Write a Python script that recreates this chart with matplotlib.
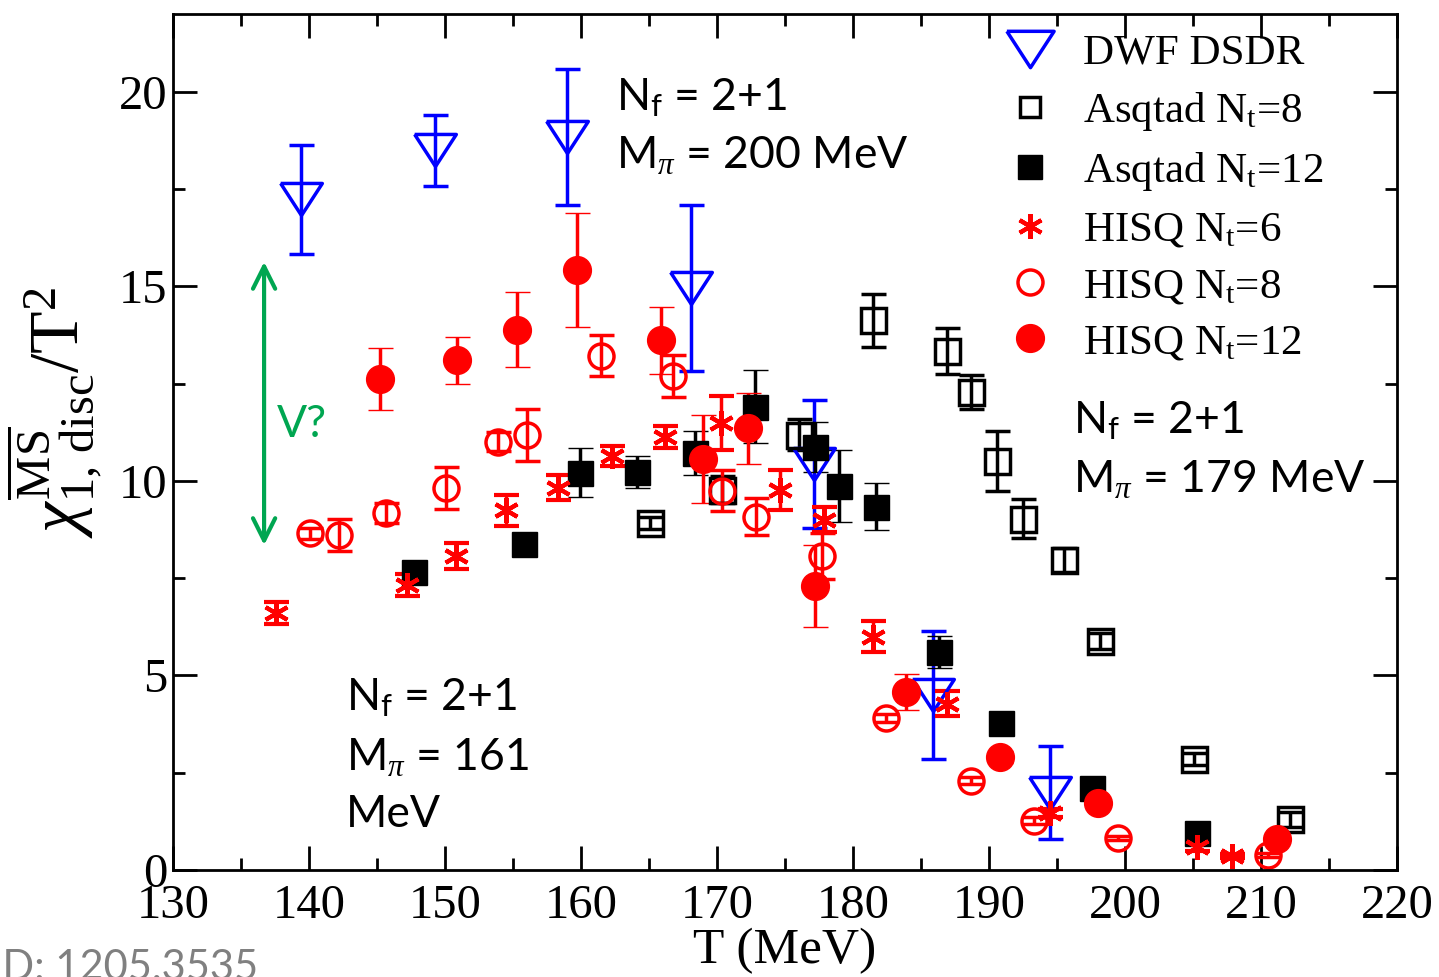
import matplotlib
matplotlib.use("Agg")
import matplotlib.pyplot as plt
from matplotlib.lines import Line2D

plt.rcParams['font.family'] = ['Liberation Serif', 'DejaVu Serif']
plt.rcParams['mathtext.fontset'] = 'custom'
plt.rcParams['mathtext.rm'] = 'Liberation Serif'
plt.rcParams['mathtext.it'] = 'Liberation Serif:italic'
plt.rcParams['mathtext.bf'] = 'Liberation Serif:bold'
plt.rcParams['mathtext.sf'] = 'Lato'

# DWF DSDR
dwf_T = [139.4, 149.3, 159.0, 168.1, 177.1, 185.9, 194.5]
dwf_y = [17.24, 18.50, 18.84, 14.96, 10.43, 4.49, 1.99]
dwf_e = [1.40, 0.91, 1.75, 2.13, 1.65, 1.64, 1.19]

# Asqtad Nt=8
asq8_T = [165.1, 170.4, 176.0, 181.45, 186.9, 188.7, 190.6, 192.5, 195.5, 198.2, 205.1, 212.1]
asq8_y = [8.92, 9.77, 11.19, 14.13, 13.34, 12.29, 10.51, 9.03, 7.97, 5.89, 2.85, 1.30]
asq8_e = [0.15, 0.35, 0.39, 0.68, 0.58, 0.44, 0.78, 0.50, 0.30, 0.20, 0.15, 0.20]

# Asqtad Nt=12
asq12_T = [147.7, 155.8, 159.9, 164.1, 168.4, 172.8, 177.2, 179.0, 181.7, 186.3, 190.9, 197.55, 205.3]
asq12_y = [7.67, 8.38, 10.21, 10.23, 10.71, 11.91, 10.88, 9.87, 9.34, 5.61, 3.77, 2.10, 0.96]
asq12_e = [0.10, 0.10, 0.63, 0.41, 0.56, 0.93, 0.64, 0.92, 0.60, 0.41, 0.10, 0.10, 0.10]

# HISQ Nt=6
h6_T = [137.6, 147.2, 150.8, 154.5, 158.3, 162.3, 166.2, 170.3, 174.6, 177.9, 181.5, 186.9, 194.5, 205.3, 207.9]
h6_y = [6.61, 7.33, 8.07, 9.25, 9.83, 10.64, 11.12, 11.49, 9.76, 9.00, 6.00, 4.27, 1.46, 0.60, 0.36]
h6_e = [0.28, 0.29, 0.34, 0.40, 0.31, 0.25, 0.28, 0.69, 0.52, 0.32, 0.39, 0.32, 0.10, 0.10, 0.05]

# HISQ Nt=8
h8_T = [140.1, 142.2, 145.7, 150.1, 153.9, 156.0, 161.5, 166.8, 170.4, 172.9, 177.7, 182.4, 188.65, 193.3, 199.5, 210.5]
h8_y = [8.65, 8.61, 9.18, 9.81, 11.01, 11.18, 13.22, 12.70, 9.75, 9.08, 8.07, 3.91, 2.30, 1.27, 0.83, 0.39]
h8_e = [0.15, 0.42, 0.25, 0.54, 0.25, 0.66, 0.53, 0.54, 0.53, 0.47, 0.60, 0.10, 0.10, 0.10, 0.05, 0.05]

# HISQ Nt=12
h12_T = [145.2, 150.9, 155.3, 159.7, 165.9, 169.0, 172.3, 177.2, 183.9, 190.8, 198.0, 211.15]
h12_y = [12.62, 13.10, 13.89, 15.42, 13.62, 10.57, 11.35, 7.30, 4.58, 2.91, 1.71, 0.79]
h12_e = [0.79, 0.61, 0.97, 1.47, 0.86, 1.13, 0.92, 1.05, 0.46, 0.15, 0.10, 0.10]

labels = ['DWF DSDR', r'Asqtad N$_{\rm t}$=8', r'Asqtad N$_{\rm t}$=12',
          r'HISQ N$_{\rm t}$=6', r'HISQ N$_{\rm t}$=8', r'HISQ N$_{\rm t}$=12']

BLUE = '#0000ff'
RED = '#ff0000'
GREEN = '#00a651'
tri = [(-1, 0.77), (1, 0.77), (0, -0.77), (-1, 0.77)]
ast = (6, 2, 0)

fig = plt.figure(figsize=(14.39, 9.77), dpi=100)
ax = fig.add_axes([0.1202, 0.1095, 0.8506, 0.8762])

eb = dict(capsize=9, elinewidth=2.5, capthick=2.5, ls='none')
ax.errorbar(dwf_T, dwf_y, yerr=dwf_e, color=BLUE, marker=tri, ms=30, mfc='none',
            mec=BLUE, mew=2.5, **eb)
ax.errorbar(asq8_T, asq8_y, yerr=asq8_e, color='k', marker='s', ms=18, mfc='none',
            mec='k', mew=2.5, **eb)
ax.errorbar(asq12_T, asq12_y, yerr=asq12_e, color='k', marker='s', ms=18, mfc='k',
            mec='k', mew=1, **eb)
ax.errorbar(h6_T, h6_y, yerr=h6_e, color=RED, marker=ast, ms=18, mec=RED, mew=3, **eb)
ax.errorbar(h8_T, h8_y, yerr=h8_e, color=RED, marker='o', ms=18, mfc='none',
            mec=RED, mew=2.5, **eb)
ax.errorbar(h12_T, h12_y, yerr=h12_e, color=RED, marker='o', ms=20, mfc=RED,
            mec=RED, mew=1, **eb)

ax.set_xlim(130, 220)
ax.set_ylim(0, 22)
ax.set_xticks(range(130, 221, 10))
ax.set_xticks(range(135, 220, 10), minor=True)
ax.set_yticks([0, 5, 10, 15, 20])
ax.set_yticks([2.5, 7.5, 12.5, 17.5], minor=True)
ax.tick_params(which='both', direction='in', top=True, right=True, width=2,
               labelsize=35)
ax.tick_params(axis='y', pad=4)
ax.tick_params(axis='x', pad=10)
ax.tick_params(which='major', length=17)
ax.tick_params(which='minor', length=8.5)
for s in ax.spines.values():
    s.set_linewidth(2)

ax.set_xlabel('T (MeV)', fontsize=37, labelpad=0)
ax.set_ylabel(r'$\chi^{\overline{\rm MS}}_{\rm 1,\,disc}/{\rm T}^{2}$', fontsize=50)
ax.yaxis.set_label_coords(-0.056, 0.535)

handles = [
    Line2D([], [], ls='none', marker=tri, ms=34, mfc='none', mec=BLUE, mew=2.5),
    Line2D([], [], ls='none', marker='s', ms=15, mfc='none', mec='k', mew=2.5),
    Line2D([], [], ls='none', marker='s', ms=17, mfc='k', mec='k'),
    Line2D([], [], ls='none', marker=ast, ms=18, mec=RED, mew=3),
    Line2D([], [], ls='none', marker='o', ms=18, mfc='none', mec=RED, mew=2.5),
    Line2D([], [], ls='none', marker='o', ms=20, mfc=RED, mec=RED),
]
ax.legend(handles, labels, loc='upper right', bbox_to_anchor=(0.964, 1.012),
          frameon=False, fontsize=31, handlelength=1.2, handletextpad=0.62,
          labelspacing=0.4, borderpad=0.2)

sans = dict(family='Lato', fontsize=32, va='baseline')
ax.text(162.6, 19.54, r'N$_{\mathsf{f}}$ = 2+1', **sans)
ax.text(162.6, 18.05, r'M$_{\pi}$ = 200 MeV', **sans)
ax.text(196.2, 11.23, r'N$_{\mathsf{f}}$ = 2+1', **sans)
ax.text(196.2, 9.72, r'M$_{\pi}$ = 179 MeV', **sans)
ax.text(142.7, 4.11, r'N$_{\mathsf{f}}$ = 2+1', **sans)
ax.text(142.7, 2.57, r'M$_{\pi}$ = 161', **sans)
ax.text(142.7, 1.10, 'MeV', **sans)

ax.annotate('', xy=(136.7, 15.63), xytext=(136.7, 8.35),
            arrowprops=dict(arrowstyle='<->', color=GREEN, lw=3,
                            mutation_scale=40, shrinkA=0, shrinkB=0))
ax.text(137.65, 11.13, 'V?', color=GREEN, **sans)

fig.text(258 / 1439, -3 / 977, 'ID: 1205.3535', family='Lato', fontsize=30,
         color='#808080', ha='right', va='baseline')

fig.savefig('out.png', dpi=100)
